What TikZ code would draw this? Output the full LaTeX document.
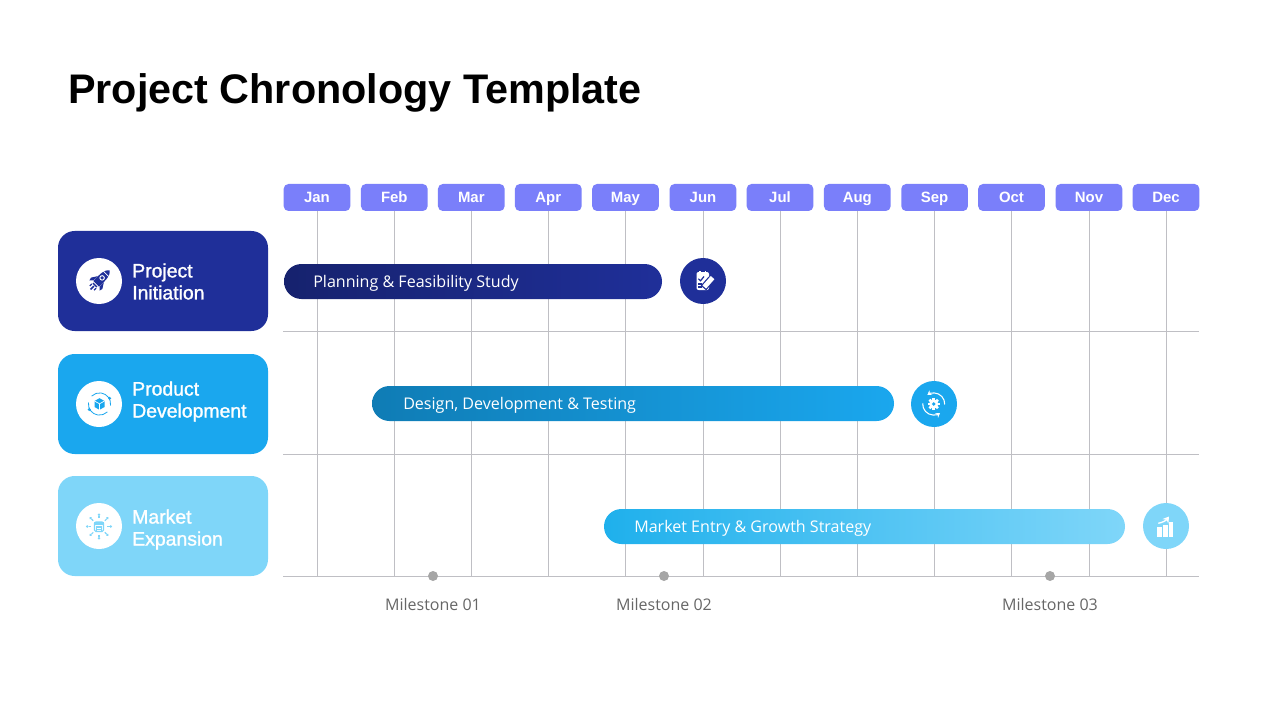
\documentclass[tikz,border=0pt]{standalone}
\usepackage{fontspec}
\setmainfont{Liberation Sans}
\newfontfamily\opensans{Open Sans}
\newfontfamily\medfont[FakeBold=1.3]{Liberation Sans}
\usetikzlibrary{shapes.misc,arrows.meta}
\definecolor{navy}{HTML}{1F2F99}
\definecolor{navydark}{HTML}{16226E}
\definecolor{sky}{HTML}{1AA7EE}
\definecolor{skydark}{HTML}{0F7CB5}
\definecolor{pale}{HTML}{7FD6F9}
\definecolor{palestart}{HTML}{1FB0EC}
\definecolor{monthc}{HTML}{7A7FFA}
\definecolor{gridc}{HTML}{BFBFC4}
\definecolor{milec}{HTML}{A6A6A6}
\definecolor{miletext}{HTML}{666666}
\tikzset{
  monthbox/.style={fill=monthc,rounded corners=3.6pt,minimum width=50pt,minimum height=20.25pt,inner sep=0pt,text=white,text height=8pt,text depth=0pt,font=\fontsize{11.2}{13}\selectfont\bfseries},
  gridline/.style={draw=gridc,line width=0.75pt},
  rowbox/.style={rounded corners=12.5pt,minimum width=157.5pt,minimum height=75pt,inner sep=0pt},
  rowtext/.style={anchor=west,align=left,text=white,inner sep=0pt,font=\medfont\fontsize{14.55}{16.5}\selectfont},
  iconback/.style={circle,fill=white,minimum size=34.5pt,inner sep=0pt},
  iconfront/.style={circle,minimum size=34.5pt,inner sep=0pt},
  barbox/.style={rounded rectangle,minimum height=26.25pt,inner sep=0pt},
  bartext/.style={anchor=base west,inner sep=0pt,text=white,font=\opensans\fontsize{12.05}{14}\selectfont},
  miledot/.style={circle,fill=milec,minimum size=7.5pt,inner sep=0pt},
  miletag/.style={inner sep=0pt,text=miletext,font=\opensans\fontsize{12}{14}\selectfont},
}
\begin{document}
\begin{tikzpicture}[x=0.75pt,y=-0.75pt]
\useasboundingbox (0,0) rectangle (1280,720);
\node[anchor=west,inner sep=0pt,font=\fontsize{31}{36}\selectfont\bfseries] (title) at (68,92.5) {Project Chronology Template};
% months
\foreach \n/\x/\t in {m1/317/Jan,m2/394.3/Feb,m3/471.3/Mar,m4/548.3/Apr,m5/625.5/May,m6/703/Jun,m7/780/Jul,m8/857.3/Aug,m9/934.6/Sep,m10/1011.5/Oct,m11/1089/Nov,m12/1166/Dec}{
  \node[monthbox] (\n) at (\x,197.5) {\t};
  \coordinate (b\n) at (\x,576);
  \draw[gridline] (\n.south) -- (b\n);
}
% row lines
\coordinate (l1) at (283,331); \coordinate (r1) at (1199,331);
\coordinate (l2) at (283,454); \coordinate (r2) at (1199,454);
\coordinate (l3) at (283,576); \coordinate (r3) at (1199,576);
\draw[gridline] (l1) -- (r1);
\draw[gridline] (l2) -- (r2);
\draw[gridline] (l3) -- (r3);
% row boxes
\node[rowbox,fill=navy] (row1) at (163,281) {};
\node[rowbox,fill=sky] (row2) at (163,404) {};
\node[rowbox,fill=pale] (row3) at (163,526) {};
\node[rowtext] (rowt1) at (132,281.5) {Project\\Initiation};
\node[rowtext] (rowt2) at (132,401.5) {Product\\Development};
\node[rowtext] (rowt3) at (132,529.5) {Market\\Expansion};
\node[iconback] (ic1) at (99,281) {};
\node[iconback] (ic2) at (99,404) {};
\node[iconback] (ic3) at (99,526) {};
% bars
\node[barbox,left color=navydark,right color=navy,minimum width=283.5pt] (bar1) at (473,281.5) {};
\node[barbox,left color=skydark,right color=sky,minimum width=391.5pt] (bar2) at (633,403.5) {};
\node[barbox,left color=palestart,right color=pale,minimum width=390.75pt] (bar3) at (864.5,526.5) {};
\node[bartext] (bart1) at (313,287) {Planning \& Feasibility Study};
\node[bartext] (bart2) at (403,409) {Design, Development \& Testing};
\node[bartext] (bart3) at (634,532) {Market Entry \& Growth Strategy};
% end circles
\node[iconfront,fill=navy] (end1) at (703,281) {};
\node[iconfront,fill=sky] (end2) at (934,404) {};
\node[iconfront,fill=pale] (end3) at (1166,526) {};
% milestones
\node[miledot] (d1) at (433,576) {};
\node[miledot] (d2) at (664,576) {};
\node[miledot] (d3) at (1050,576) {};
\node[miletag] (t1) at (433,604) {Milestone 01};
\node[miletag] (t2) at (664,604) {Milestone 02};
\node[miletag] (t3) at (1050,604) {Milestone 03};
% rocket icon
\begin{scope}[shift={(99,281)},rotate=-45,scale=0.8,navy]
  \fill (0,-19) .. controls (5,-15) and (5.5,-9) .. (5,5) -- (-5,5) .. controls (-5.5,-9) and (-5,-15) .. (0,-19) -- cycle;
  \fill (-5.5,-3) -- (-10,4) -- (-9,8) -- (-5.5,4.5) -- cycle;
  \fill (5.5,-3) -- (10,4) -- (9,8) -- (5.5,4.5) -- cycle;
  \fill (-3.5,6.3) rectangle (3.5,8);
  \fill (-0.9,9) rectangle (0.9,15);
  \fill (-4.6,9) rectangle (-3,12.5);
  \fill (3,9) rectangle (4.6,12.5);
  \draw[white,line width=0.7pt] (0,-5.5) circle[radius=2.8];
  \draw[white,line width=0.5pt] (-4.5,-12.5) -- (4.5,-12.5);
\end{scope}
% cube cycle icon
\begin{scope}[shift={(99.5,404)},sky,line width=0.6pt]
  \draw (-11,-1.5) arc[start angle=188,end angle=45,radius=11.1];
  \draw (11,1.5) arc[start angle=8,end angle=-135,radius=11.1];
  \fill (10.2,-5.7) circle[radius=1.6];
  \fill (-10.2,5.5) circle[radius=1.6];
  \fill (0,-5.8) -- (5,-3) -- (5,3) -- (0,5.8) -- (-5,3) -- (-5,-3) -- cycle;
  \draw[white,line width=0.5pt] (-5,-3) -- (0,-0.2) -- (5,-3) (0,-0.2) -- (0,5.8);
\end{scope}
% market icon
\begin{scope}[shift={(99,526.5)},pale,line width=0.8pt]
  \foreach \a in {0,45,...,315}{
    \draw[rotate=\a] (8.3,0) -- (10.5,0);
    \fill[rotate=\a] (11.8,0) circle[radius=1.4];
  }
  \draw[rounded corners=1pt] (-4.5,-4.5) rectangle (4.5,5);
  \fill (-5.3,-5) rectangle (5.3,-1.8);
  \draw (-2.3,5) -- (-2.3,0.5) -- (2.3,0.5) -- (2.3,5);
  \draw (-2.3,2.7) -- (2.3,2.7);
\end{scope}
% clipboard icon
\begin{scope}[shift={(703,281)},white]
  \fill[rounded corners=1.5pt] (-6.5,-9) rectangle (6,9);
  \fill (-4,-10.5) rectangle (-2.5,-8);
  \fill (1.5,-10.5) rectangle (3,-8);
  \draw[navy,line width=0.9pt] (-4.7,-2.3) -- (-2.5,-0.2) -- (1,-4.5);
  \draw[navy,line width=0.9pt] (-4.7,3) -- (-1.5,3) (-4.7,6) -- (-1.5,6);
  \draw[navy,line width=5.4pt] (0.5,7) -- (8.3,-2);
  \draw[white,line width=3.6pt] (1.3,6) -- (9.6,-3.4);
\end{scope}
% gear cycle icon
\begin{scope}[shift={(933.7,404)},white,line width=0.8pt]
  \draw[-{Stealth[length=3.2pt,width=4pt]}] (-11,-0.5) arc[start angle=183,end angle=55,radius=11];
  \draw[-{Stealth[length=3.2pt,width=4pt]}] (11,0.5) arc[start angle=3,end angle=-125,radius=11];
  \fill (0,0) circle[radius=4.6];
  \foreach \a in {0,45,...,315}{\fill[rotate=\a] (-1.3,-6) rectangle (1.3,-3.5);}
  \fill[sky] (0,0) circle[radius=1.8];
\end{scope}
% chart icon
\begin{scope}[shift={(1166,526)},white]
  \fill (-8.7,1) rectangle (-4,10.7);
  \fill (-3,-1) rectangle (1.7,10.7);
  \fill (2.7,-4.3) rectangle (7.4,10.7);
  \draw[line width=1pt,-{Stealth[length=4.5pt,width=5.5pt]}] (-7.7,-2.7) .. controls (-3.5,-3.5) and (0,-5.5) .. (3,-9.5);
\end{scope}
\end{tikzpicture}
\end{document}
